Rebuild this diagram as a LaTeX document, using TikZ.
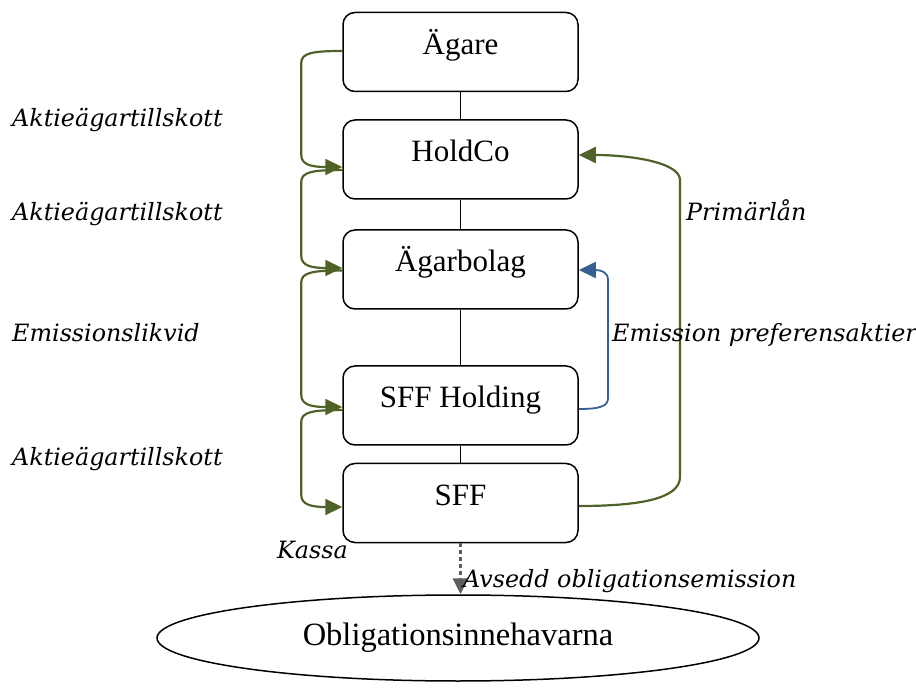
\documentclass[tikz,border=0pt]{standalone}
\usepackage{fontspec}
\setmainfont{Liberation Serif}
\newfontfamily\lblfont{DejaVu Serif}
\usetikzlibrary{arrows.meta,shapes.geometric,calc}
\definecolor{cgreen}{RGB}{79,98,40}
\definecolor{cblue}{RGB}{54,96,146}
\definecolor{cgray}{RGB}{95,95,95}
\tikzset{
  box/.style={draw,line width=1.5pt,rounded corners=12pt,minimum width=235pt,minimum height=79pt,
    inner sep=0pt,font=\fontsize{31}{36}\selectfont,text height=22pt,text depth=17pt},
  lbl/.style={font=\lblfont\itshape\fontsize{23.8}{27}\selectfont,anchor=base west,inner sep=0pt},
  link/.style={line width=1.5pt},
  gconn/.style={draw=cgreen,line width=2.2pt,-{Triangle[length=17pt,width=16pt]}},
  bconn/.style={draw=cblue,line width=1.8pt,-{Triangle[length=17pt,width=16pt]}},
  lconn/.style={to path={.. controls +(-30,0) and +(0,-10) .. ([shift={(-41,12)}]\tikztostart)
      -- ([shift={(-41,-12)}]\tikztotarget) .. controls +(0,10) and +(-30,0) .. (\tikztotarget) \tikztonodes}}
}
\begin{document}
\begin{tikzpicture}[x=1pt,y=-1pt]
\useasboundingbox (0,0) rectangle (916,700);
% boxes
\node[box] (ag) at (460.5,52) {Ägare};
\node[box] (hc) at (460.5,159.5) {HoldCo};
\node[box] (ab) at (460.5,269.5) {Ägarbolag};
\node[box] (sh) at (460.5,405.5) {SFF Holding};
\node[box] (sf) at (460.5,503) {SFF};
\node[draw,ellipse,line width=1.5pt,minimum width=602pt,minimum height=86pt,inner sep=0pt,
  font=\fontsize{32.5}{38}\selectfont] (obl) at (458,638) {Obligationsinnehavarna};
% vertical links
\draw[link] (ag) -- (hc);
\draw[link] (hc) -- (ab);
\draw[link] (ab) -- (sh);
\draw[link] (sh) -- (sf);
% left connectors
\coordinate (c1s) at ($(ag.west)+(0,-1)$);
\coordinate (c1e) at ($(hc.west)+(0,7.5)$);
\coordinate (c2s) at ($(hc.west)+(0,10.5)$);
\coordinate (c2e) at ($(ab.west)+(0,-1.5)$);
\coordinate (c3s) at ($(ab.west)+(0,1)$);
\coordinate (c3e) at ($(sh.west)+(0,1.5)$);
\coordinate (c4s) at ($(sh.west)+(0,4.5)$);
\coordinate (c4e) at ($(sf.west)+(0,4)$);
\draw[gconn] (c1s) to[lconn] (c1e);
\draw[gconn] (c2s) to[lconn] (c2e);
\draw[gconn] (c3s) to[lconn] (c3e);
\draw[gconn] (c4s) to[lconn] (c4e);
% right connectors
\coordinate (rgs) at ($(sf.east)+(0,3)$);
\coordinate (rge) at ($(hc.east)+(0,-4.5)$);
\draw[gconn] (rgs) .. controls +(60,0) and +(0,22) .. (680,477) -- (680,180)
  .. controls +(0,-18) and +(50,0) .. (rge);
\coordinate (bls) at ($(sh.east)+(0,3.5)$);
\coordinate (ble) at ($(ab.east)+(0,0.5)$);
\draw[bconn] (bls) .. controls +(22,0) and +(0,8) .. (608,398) -- (608,280)
  .. controls +(0,-8) and +(22,0) .. (ble);
% dashed arrow
\draw[cgray,line width=3.5pt,dash pattern=on 4pt off 3pt,-{Triangle[length=16pt,width=15pt]}]
  (sf.south) -- (sf.south |- obl.north);
% labels
\node[lbl] (l1) at (12,127) {Aktieägartillskott};
\node[lbl] (l2) at (12,221) {Aktieägartillskott};
\node[lbl] (l3) at (12,342) {Emissionslikvid};
\node[lbl] (l4) at (12,465) {Aktieägartillskott};
\node[lbl] (l5) at (277,558) {Kassa};
\node[lbl] (l6) at (463,587) {Avsedd obligationsemission};
\node[lbl] (l7) at (686,221) {Primärlån};
\node[lbl] (l8) at (612,342) {Emission preferensaktier};
\end{tikzpicture}
\end{document}
